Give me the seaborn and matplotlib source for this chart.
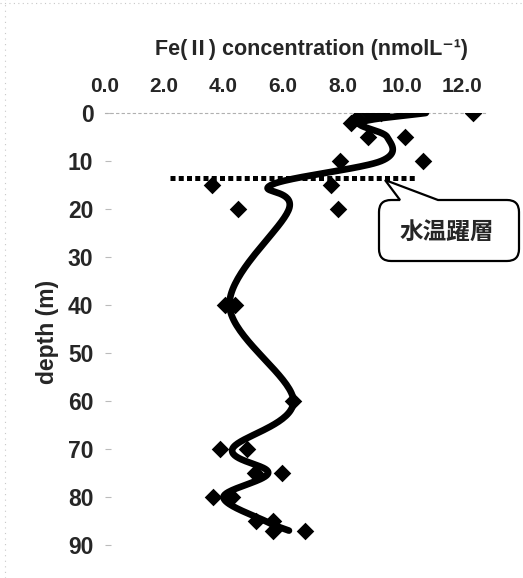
import numpy as np
import pandas as pd
import seaborn as sns
import matplotlib
matplotlib.use("Agg")
import matplotlib.pyplot as plt
from matplotlib.path import Path
from matplotlib.patches import PathPatch
from matplotlib.transforms import IdentityTransform

# ---- data ----
sample_depth = [0, 0, 0, 1, 2, 5, 5, 10, 10, 15, 15, 20, 20, 40, 40, 60,
                70, 70, 75, 75, 80, 80, 85, 85, 87, 87]
sample_fe = [12.4, 8.9, 9.3, 8.5, 8.3, 8.85, 10.1, 7.9, 10.7, 3.6, 7.6, 4.5, 7.86,
             4.05, 4.4, 6.35, 3.88, 4.78, 5.06, 5.96, 3.66, 4.28, 5.1, 5.67, 5.67, 6.74]

mean_depth = [0, 2, 5, 10, 15, 20, 40, 60, 70, 75, 80, 85, 87]
mean_fe = [10.8, 8.6, 9.5, 9.3, 5.6, 6.2, 4.2, 6.35, 4.3, 5.5, 4.0, 5.4, 6.2]

x_ticks = [0, 2, 4, 6, 8, 10, 12]
y_ticks = [0, 10, 20, 30, 40, 50, 60, 70, 80, 90]
thermocline_depth = 13.5
thermocline_range = (2.2, 10.5)

x_title = "Fe(Ⅱ) concentration (nmolL⁻¹)"
y_title = "depth (m)"
callout_text = "水温躍層"

# ---- smoothed line (Excel-like Catmull-Rom bezier through the mean nodes) ----
def smooth(xs, ys, n=40):
    P = np.column_stack([xs, ys]).astype(float)
    out = []
    m = len(P)
    for i in range(m - 1):
        p0 = P[max(i - 1, 0)]
        p1 = P[i]
        p2 = P[i + 1]
        p3 = P[min(i + 2, m - 1)]
        c1 = p1 + (p2 - p0) / 6.0
        c2 = p2 - (p3 - p1) / 6.0
        t = np.linspace(0, 1, n)[:, None]
        seg = ((1 - t) ** 3) * p1 + 3 * ((1 - t) ** 2) * t * c1 + 3 * (1 - t) * t ** 2 * c2 + t ** 3 * p2
        out.append(seg if i == 0 else seg[1:])
    arr = np.vstack(out)
    return arr[:, 0], arr[:, 1]

sx, sy = smooth(mean_fe, mean_depth)
curve = pd.DataFrame({"fe": sx, "depth": sy})
samples = pd.DataFrame({"fe": sample_fe, "depth": sample_depth})

sns.set_theme(style="white")
plt.rcParams["font.family"] = ["Liberation Sans", "Noto Sans CJK JP", "DejaVu Sans"]

W, H = 523, 578
fig = plt.figure(figsize=(W / 100, H / 100), dpi=100)
fig.patch.set_facecolor("white")

left_px, right_px, top_px, bot_px = 104.5, 488.3, 113, 569
ax = fig.add_axes([left_px / W, 1 - bot_px / H, (right_px - left_px) / W, (bot_px - top_px) / H])

sns.lineplot(data=curve, x="fe", y="depth", sort=False, estimator=None,
             color="black", linewidth=4.8, ax=ax, zorder=3)
sns.scatterplot(data=samples, x="fe", y="depth", marker="D", s=80,
                color="black", edgecolor="black", linewidth=0, ax=ax, zorder=4)

# thermocline dotted line
ax.plot(list(thermocline_range), [thermocline_depth, thermocline_depth],
        color="black", linewidth=3.6, linestyle=(0, (1, 0.65)),
        dash_capstyle="butt", zorder=2)

ax.set_xlim(0, 12.9)
ax.set_ylim(95, 0)
ax.xaxis.tick_top()
ax.set_xticks(x_ticks)
ax.set_xticklabels([f"{v:.1f}" for v in x_ticks], fontsize=15, fontweight="bold")
ax.set_yticks(y_ticks)
ax.set_yticklabels([str(v) for v in y_ticks], fontsize=16.5, fontweight="bold")
ax.tick_params(axis="x", length=0, pad=12, top=True, bottom=False)
ax.tick_params(axis="y", direction="in", length=4, width=0.8, color="#bbbbbb", pad=8, left=True)

for s in ["left", "right", "bottom"]:
    ax.spines[s].set_visible(False)
ax.spines["top"].set_visible(True)
ax.spines["top"].set_color("#b0b0b0")
ax.spines["top"].set_linewidth(0.8)
ax.spines["top"].set_linestyle((0, (2, 3)))
ax.grid(False)

ax.set_xlabel(x_title, fontsize=15.5, fontweight="bold")
ax.xaxis.set_label_position("top")
ax.xaxis.set_label_coords(0.54, 1.14)
ax.xaxis.label.set_va("center")
ax.set_ylabel(y_title, fontsize=16.5, fontweight="bold")
ax.yaxis.set_label_coords(-0.148, 0.52)
ax.yaxis.label.set_va("center")

# ---- callout box (pixel coords, y downward) ----
def px(x, y):
    return (x, H - y)

L, R, T, B, r = 379, 519, 200, 261, 12
verts = [px(400, T), px(385, 180), px(438, T), px(R - r, T),
         px(R, T), px(R, T + r),
         px(R, B - r), px(R, B), px(R - r, B),
         px(L + r, B), px(L, B), px(L, B - r),
         px(L, T + r), px(L, T), px(L + r, T),
         px(400, T)]
codes = [Path.MOVETO, Path.LINETO, Path.LINETO, Path.LINETO,
         Path.CURVE3, Path.CURVE3,
         Path.LINETO, Path.CURVE3, Path.CURVE3,
         Path.LINETO, Path.CURVE3, Path.CURVE3,
         Path.LINETO, Path.CURVE3, Path.CURVE3,
         Path.CLOSEPOLY]
patch = PathPatch(Path(verts, codes), facecolor="white", edgecolor="black",
                  linewidth=1.6, transform=IdentityTransform(), zorder=10)
fig.patches.append(patch)
fig.text(447 / W, 1 - 232 / H, callout_text, ha="center", va="center",
         fontsize=17, fontweight="bold", family=["Noto Sans CJK JP", "DejaVu Sans"], zorder=11)

# faint chart border (top and left)
fig.add_artist(plt.Line2D([0, 1], [1 - 3 / H, 1 - 3 / H], transform=fig.transFigure,
                          color="#c8c8c8", linewidth=0.8, linestyle=(0, (1, 3))))
fig.add_artist(plt.Line2D([5 / W, 5 / W], [0, 1], transform=fig.transFigure,
                          color="#c8c8c8", linewidth=0.8, linestyle=(0, (1, 4))))

fig.savefig("out.png", dpi=100, facecolor="white")
